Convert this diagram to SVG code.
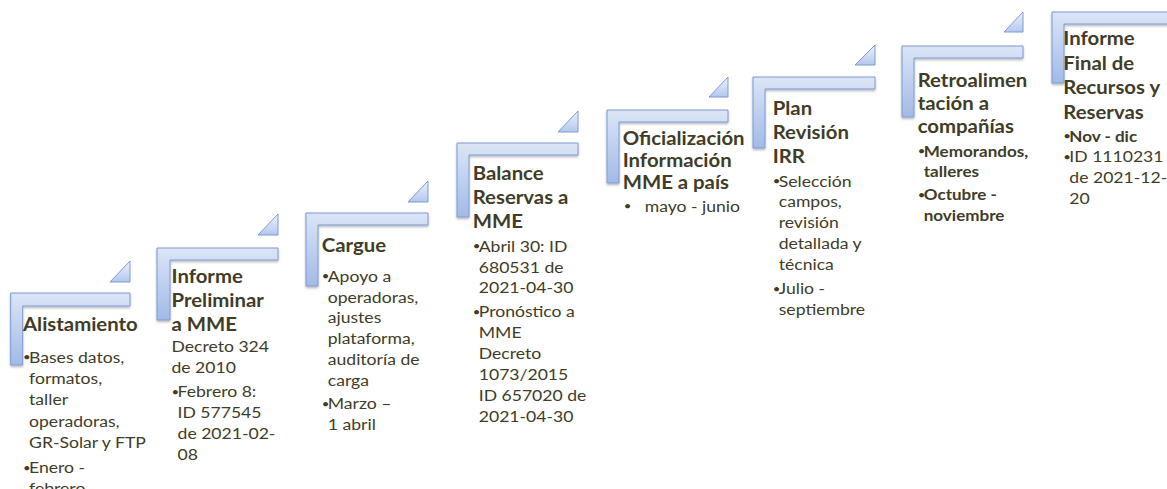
<svg xmlns="http://www.w3.org/2000/svg" width="1167" height="489" viewBox="0 0 1167 489">
<defs>
<linearGradient id="lg" x1="0" y1="0" x2="0" y2="1">
<stop offset="0" stop-color="#dbe5f6"/>
<stop offset="1" stop-color="#a2bae8"/>
</linearGradient>
<linearGradient id="tg" x1="0" y1="0" x2="0" y2="1">
<stop offset="0" stop-color="#eef3fb"/>
<stop offset="1" stop-color="#b3c7ee"/>
</linearGradient>
<filter id="sh" x="-20%" y="-20%" width="140%" height="140%">
<feDropShadow dx="0" dy="1.5" stdDeviation="1.2" flood-color="#000" flood-opacity="0.3"/>
</filter>
</defs>
<style>
.L{fill:url(#lg);stroke:#7c9ad3;stroke-width:1;filter:url(#sh)}
.T{fill:url(#tg);stroke:#7c9ad3;stroke-width:1}
text{font-family:Lato,"Liberation Sans",sans-serif;fill:#403c28}
.h{font-size:18.5px;font-weight:bold}
.b{font-size:16px}
.bb{font-size:15.5px;font-weight:bold}
.d{font-size:12px}
</style>
<rect width="1167" height="489" fill="#ffffff"/>

<g id="node1">
<path class="L" d="M10.7,293 H130 V306 H22.7 V365 H10.7 Z"/>
<path class="T" d="M130,261 V282 H110 Z"/>
<g transform="translate(23,0) scale(1.1,1)">
<text class="h" x="0" y="331.5">Alistamiento</text>
<text class="d" x="0" y="361.5">•</text>
<text class="b" x="5.5" y="362.7">Bases datos,</text>
<text class="b" x="5.5" y="384">formatos,</text>
<text class="b" x="5.5" y="405.3">taller</text>
<text class="b" x="5.5" y="426.7">operadoras,</text>
<text class="b" x="5.5" y="448">GR-Solar y FTP</text>
<text class="d" x="0" y="472">•</text>
<text class="b" x="5.5" y="473">Enero -</text>
<text class="b" x="5.5" y="494">febrero</text>
</g>
</g>

<g id="node2">
<path class="L" d="M157,248 H278 V260 H170 V320 H157 Z"/>
<path class="T" d="M278,214 V235 H258 Z"/>
<g transform="translate(171.5,0) scale(1.1,1)">
<text class="h" x="0" y="282.7">Informe</text>
<text class="h" x="0" y="306.7">Preliminar</text>
<text class="h" x="0" y="330.7">a MME</text>
<text class="b" x="0" y="351.7">Decreto 324</text>
<text class="b" x="0" y="372.7">de 2010</text>
<text class="d" x="0" y="396">•</text>
<text class="b" x="5.5" y="397.3">Febrero 8:</text>
<text class="b" x="5.5" y="418.3">ID 577545</text>
<text class="b" x="5.5" y="439.3">de 2021-02-</text>
<text class="b" x="5.5" y="460.5">08</text>
</g>
</g>

<g id="node3">
<path class="L" d="M306,213 H428 V225 H318 V286 H306 Z"/>
<path class="T" d="M428,181 V202 H408 Z"/>
<g transform="translate(321.7,0) scale(1.1,1)">
<text class="h" x="0" y="251.7">Cargue</text>
<text class="d" x="0" y="280.5">•</text>
<text class="b" x="5.5" y="281.7">Apoyo a</text>
<text class="b" x="5.5" y="302.7">operadoras,</text>
<text class="b" x="5.5" y="323.5">ajustes</text>
<text class="b" x="5.5" y="344.5">plataforma,</text>
<text class="b" x="5.5" y="365.5">auditoría de</text>
<text class="b" x="5.5" y="386.5">carga</text>
<text class="d" x="0" y="408.3">•</text>
<text class="b" x="5.5" y="409.5">Marzo –</text>
<text class="b" x="5.5" y="430.5">1 abril</text>
</g>
</g>

<g id="node4">
<path class="L" d="M457,143 H578 V155 H469 V217 H457 Z"/>
<path class="T" d="M578,111 V132 H558 Z"/>
<g transform="translate(472.7,0) scale(1.1,1)">
<text class="h" x="0" y="180">Balance</text>
<text class="h" x="0" y="204">Reservas a</text>
<text class="h" x="0" y="228.3">MME</text>
<text class="d" x="0" y="250.5">•</text>
<text class="b" x="5.5" y="251.7">Abril 30: ID</text>
<text class="b" x="5.5" y="272.7">680531 de</text>
<text class="b" x="5.5" y="293.5">2021-04-30</text>
<text class="d" x="0" y="316">•</text>
<text class="b" x="5.5" y="317.3">Pronóstico a</text>
<text class="b" x="5.5" y="338.3">MME</text>
<text class="b" x="5.5" y="359.3">Decreto</text>
<text class="b" x="5.5" y="380.5">1073/2015</text>
<text class="b" x="5.5" y="401.5">ID 657020 de</text>
<text class="b" x="5.5" y="422.5">2021-04-30</text>
</g>
</g>

<g id="node5">
<path class="L" d="M607,110 H728 V122 H619 V183 H607 Z"/>
<path class="T" d="M728,77 V97 H709 Z"/>
<g transform="translate(622.7,0) scale(1.1,1)">
<text class="h" x="0" y="145">Oficialización</text>
<text class="h" x="0" y="167">Información</text>
<text class="h" x="0" y="189">MME a país</text>
<text class="d" x="1" y="210.5">•</text>
<text class="b" x="20" y="211.7">mayo - junio</text>
</g>
</g>

<g id="node6">
<path class="L" d="M753,77 H875 V89 H765 V148 H753 Z"/>
<path class="T" d="M875,45 V65 H855 Z"/>
<g transform="translate(772.7,0) scale(1.1,1)">
<text class="h" x="0" y="115">Plan</text>
<text class="h" x="0" y="139">Revisión</text>
<text class="h" x="0" y="162.7">IRR</text>
<text class="d" x="0" y="185.5">•</text>
<text class="b" x="5.5" y="186.7">Selección</text>
<text class="b" x="5.5" y="207.5">campos,</text>
<text class="b" x="5.5" y="228.5">revisión</text>
<text class="b" x="5.5" y="249.3">detallada y</text>
<text class="b" x="5.5" y="270.3">técnica</text>
<text class="d" x="0" y="292.8">•</text>
<text class="b" x="5.5" y="294">Julio -</text>
<text class="b" x="5.5" y="315">septiembre</text>
</g>
</g>

<g id="node7">
<path class="L" d="M902,46 H1023 V58 H914 V117 H902 Z"/>
<path class="T" d="M1023,12 V32 H1004 Z"/>
<g transform="translate(917.7,0) scale(1.1,1)">
<text class="h" x="0" y="86.7">Retroalimen</text>
<text class="h" x="0" y="110">tación a</text>
<text class="h" x="0" y="133.3">compañías</text>
<text class="d" x="0" y="155.5">•</text>
<text class="bb" x="5.5" y="156.7">Memorandos,</text>
<text class="bb" x="5.5" y="177">talleres</text>
<text class="d" x="0" y="198.8">•</text>
<text class="bb" x="5.5" y="200">Octubre -</text>
<text class="bb" x="5.5" y="221">noviembre</text>
</g>
</g>

<g id="node8">
<path class="L" d="M1052,12 H1175 V24 H1064 V83 H1052 Z"/>
<g transform="translate(1063.3,0) scale(1.1,1)">
<text class="h" x="0" y="45">Informe</text>
<text class="h" x="0" y="70">Final de</text>
<text class="h" x="0" y="94.5">Recursos y</text>
<text class="h" x="0" y="119">Reservas</text>
<text class="d" x="0" y="140.5">•</text>
<text class="bb" x="5.5" y="141.7">Nov - dic</text>
<text class="d" x="0" y="161">•</text>
<text class="b" x="5.5" y="162.3">ID 1110231</text>
<text class="b" x="5.5" y="183.3">de 2021-12-</text>
<text class="b" x="5.5" y="204">20</text>
</g>
</g>
<g id="connectors"/>
</svg>
